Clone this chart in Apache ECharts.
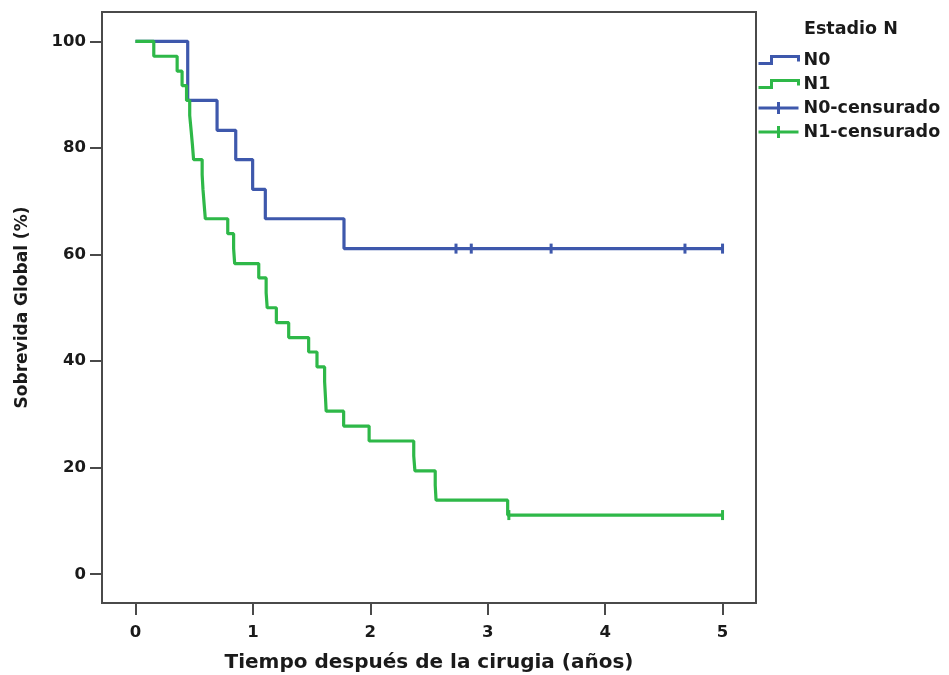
<!DOCTYPE html>
<html>
<head>
<meta charset="utf-8">
<script src="https://cdn.jsdelivr.net/npm/echarts@6/dist/echarts.min.js"></script>
<style>
  html, body { margin: 0; padding: 0; background: #fff; }
  #chart { width: 949px; height: 675px; }
</style>
</head>
<body>
<div id="chart"></div>
<script>
// Kaplan-Meier data (time in years, survival in %)
var n0Times = [0, 0.445, 0.695, 0.854, 0.998, 1.106, 1.776, 5.0];
var n0Surv  = [100, 88.9, 83.3, 77.8, 72.2, 66.7, 61.1, 61.1];

var n1Times = [0, 0.156, 0.355, 0.397, 0.435, 0.462, 0.474, 0.485, 0.495, 0.568, 0.575, 0.585, 0.595,
	0.786, 0.836, 0.845, 1.05, 1.113, 1.122, 1.2, 1.305, 1.475, 1.546, 1.611, 1.618, 1.624,
	1.773, 1.99, 2.37, 2.38, 2.553, 2.56, 3.17, 5.0];
var n1Surv  = [100, 97.2, 94.4, 91.7, 88.9, 86.1, 83.3, 80.6, 77.8, 75.0, 72.2, 69.4, 66.7,
	63.9, 61.1, 58.3, 55.6, 52.8, 50.0, 47.2, 44.4, 41.7, 38.9, 36.1, 33.3, 30.6,
	27.8, 25.0, 22.2, 19.4, 16.7, 13.9, 11.1, 11.1];

// censored observations
var n0CensTimes = [2.73, 2.86, 3.54, 4.68, 5.0];
var n0CensSurv  = [61.1, 61.1, 61.1, 61.1, 61.1];
var n1CensTimes = [3.18, 5.0];
var n1CensSurv  = [11.1, 11.1];

var xTicks = [0, 1, 2, 3, 4, 5];
var yTicks = [0, 20, 40, 60, 80, 100];

var blue = '#3e58ac';
var green = '#2eb848';
var axisColor = '#4a4a4a';
var textColor = '#1a1a1a';
var font = 'DejaVu Sans';

function pairs(xs, ys) {
	return xs.map(function (x, i) { return [x, ys[i]]; });
}

var chart = echarts.init(document.getElementById('chart'));

var stepIcon = 'path://M0,7 L13,7 L13,0 L40,0 L40,5';
var censIcon = 'path://M0,6 L40,6 M20,0 L20,12';

function legendItem(name, icon, color) {
	return {
		name: name,
		icon: icon,
		itemStyle: { color: 'rgba(0,0,0,0)', borderColor: color, borderWidth: 3, opacity: 1 }
	};
}

var legendText = { fontFamily: font, fontWeight: 'bold', fontSize: 17.5, color: textColor };

var option = {
	animation: false,
	title: {
		text: 'Estadio N',
		left: 804,
		top: 20,
		padding: 0,
		textStyle: { fontFamily: font, fontWeight: 'bold', fontSize: 17.5, color: textColor }
	},
	legend: [{
		orient: 'vertical',
		left: 757,
		top: 51,
		padding: 0,
		itemWidth: 40,
		itemHeight: 7,
		itemGap: 6,
		selectedMode: false,
		textStyle: legendText,
		data: [legendItem('N0', stepIcon, blue), legendItem('N1', stepIcon, green)]
	}, {
		orient: 'vertical',
		left: 757,
		top: 99,
		padding: 0,
		itemWidth: 40,
		itemHeight: 12,
		itemGap: 6,
		selectedMode: false,
		textStyle: legendText,
		data: [legendItem('N0-censurado', censIcon, blue), legendItem('N1-censurado', censIcon, green)]
	}],
	grid: {
		left: 102,
		right: 193,
		top: 12,
		bottom: 72,
		show: true,
		borderColor: axisColor,
		borderWidth: 2,
		containLabel: false,
		outerBoundsMode: 'none'
	},
	xAxis: {
		type: 'value',
		min: -0.285,
		max: 5.285,
		name: 'Tiempo después de la cirugia (años)',
		nameLocation: 'middle',
		nameGap: 50,
		nameTextStyle: { fontFamily: font, fontWeight: 'bold', fontSize: 20, color: textColor },
		axisLine: { show: false, onZero: false },
		splitLine: { show: false },
		axisTick: { show: true, length: 12, customValues: xTicks, lineStyle: { color: axisColor, width: 2 } },
		axisLabel: { customValues: xTicks, margin: 21, fontFamily: font, fontWeight: 'bold', fontSize: 16.5, color: textColor }
	},
	yAxis: {
		type: 'value',
		min: -5.4,
		max: 105.5,
		name: 'Sobrevida Global (%)',
		nameLocation: 'middle',
		nameGap: 71,
		nameTextStyle: { fontFamily: font, fontWeight: 'bold', fontSize: 17, color: textColor },
		axisLine: { show: false, onZero: false },
		splitLine: { show: false },
		axisTick: { show: true, length: 12, customValues: yTicks, lineStyle: { color: axisColor, width: 2 } },
		axisLabel: { customValues: yTicks, margin: 16, fontFamily: font, fontWeight: 'bold', fontSize: 16.5, color: textColor }
	},
	series: [{
		name: 'N0',
		type: 'line',
		step: 'end',
		showSymbol: false,
		color: blue,
		lineStyle: { color: blue, width: 3.2 },
		data: pairs(n0Times, n0Surv)
	}, {
		name: 'N1',
		type: 'line',
		step: 'end',
		showSymbol: false,
		color: green,
		lineStyle: { color: green, width: 3.2 },
		data: pairs(n1Times, n1Surv)
	}, {
		name: 'N0-censurado',
		type: 'scatter',
		symbol: 'rect',
		symbolSize: [3, 10],
		color: blue,
		itemStyle: { color: blue, opacity: 1 },
		data: pairs(n0CensTimes, n0CensSurv)
	}, {
		name: 'N1-censurado',
		type: 'scatter',
		symbol: 'rect',
		symbolSize: [3, 10],
		color: green,
		itemStyle: { color: green, opacity: 1 },
		data: pairs(n1CensTimes, n1CensSurv)
	}]
};

chart.setOption(option);

window.addEventListener('resize', function () {
	chart.resize();
});
</script>
</body>
</html>
